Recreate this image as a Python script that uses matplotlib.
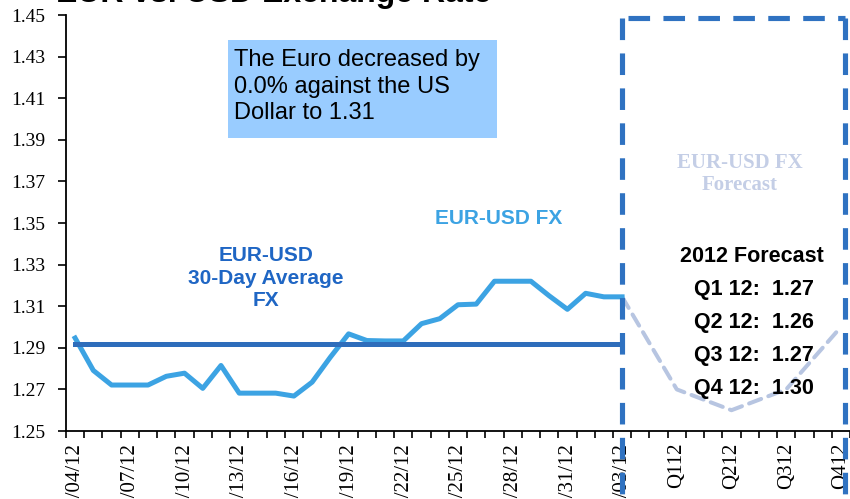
import numpy as np
import matplotlib.pyplot as plt
from matplotlib.lines import Line2D
from matplotlib.patches import Rectangle

# daily EUR-USD fix, 01/04/12 .. 02/03/12
eur_usd = [1.2947, 1.2791, 1.2721, 1.2721, 1.2721, 1.2763, 1.2778, 1.2705, 1.2815, 1.2682,
           1.2682, 1.2682, 1.2668, 1.2735, 1.2855, 1.2967, 1.2935, 1.2933, 1.2933, 1.3016,
           1.3040, 1.3107, 1.3110, 1.3220, 1.3220, 1.3220, 1.3150, 1.3085, 1.3162, 1.3145,
           1.3145]
avg_30d = 1.292
forecast = [1.27, 1.26, 1.27, 1.30]
forecast_labels = ['Q1 12', 'Q2 12', 'Q3 12', 'Q4 12']
date_labels = ['01/04/12', '01/07/12', '01/10/12', '01/13/12', '01/16/12', '01/19/12',
               '01/22/12', '01/25/12', '01/28/12', '01/31/12', '02/03/12']
q_ticklabels = ['Q112', 'Q212', 'Q312', 'Q412']

W, H = 850, 499
fig = plt.figure(figsize=(W / 100, H / 100), dpi=100)
ax = fig.add_axes([66 / W, 1 - 431 / H, 1 - 66 / W, (431 - 15) / H])

n = len(eur_usd)
x = np.arange(n)
last = n - 1
fx = [last] + [last + 3 * (i + 1) for i in range(len(forecast))]
fy = [eur_usd[-1]] + forecast

ax.plot(fx, fy, color='#b7c5e1', lw=2.9, dashes=(3.2, 1.9), dash_capstyle='round',
        solid_capstyle='round', zorder=2)
ax.plot(x, eur_usd, color='#3ca3e3', lw=3.6, zorder=3)
ax.plot([0, last], [avg_30d, avg_30d], color='#2e6dbb', lw=3.6, zorder=4)

# forecast box (runs off the bottom of the picture)
box_kw = dict(color='#2f72c1', lw=3.7, dashes=(4.2, 2.6), clip_on=False, zorder=5)
ax.add_line(Line2D([last, last], [1.4485, 1.10], **box_kw))
ax.add_line(Line2D([42.2, 42.2], [1.4485, 1.10], **box_kw))
ax.add_line(Line2D([last + 0.3, 42.2], [1.4485, 1.4485], **box_kw))

ax.set_xlim(-0.5, 42.5)
ax.set_ylim(1.25, 1.45)
ax.set_yticks(np.arange(1.25, 1.451, 0.02))
ax.set_yticklabels(['%.2f' % v for v in np.arange(1.25, 1.451, 0.02)],
                   family='Liberation Serif', fontsize=14)
ax.tick_params(axis='y', direction='out', length=6, width=1.2, pad=9)

tick_pos = list(range(0, n, 3)) + [last + 3 * (i + 1) for i in range(len(forecast))]
ax.set_xticks(tick_pos)
ax.set_xticklabels(date_labels + q_ticklabels, rotation=90, family='Liberation Serif',
                   fontsize=15, va='top')
ax.tick_params(axis='x', which='major', length=0, pad=8.5)
ax.set_xticks(np.arange(-0.5, 43, 1), minor=True)
ax.tick_params(axis='x', which='minor', direction='out', length=5, width=1.2)

for s in ['top', 'right']:
    ax.spines[s].set_visible(False)
for s in ['left', 'bottom']:
    ax.spines[s].set_linewidth(1.3)

def px(xp, yp):
    return xp / W, 1 - yp / H

# title, mostly cut off at the top
fig.text(*px(56, 2), 'EUR vs. USD Exchange Rate', family='Liberation Sans',
         weight='bold', fontsize=23, va='baseline', ha='left')

fig.patches.append(Rectangle(px(228, 138), 269 / W, 98 / H, transform=fig.transFigure,
                             facecolor='#99ccff', edgecolor='none', zorder=1))
fig.text(*px(234, 49), 'The Euro decreased by\n0.0% against the US\nDollar to 1.31',
         family='Liberation Sans', fontsize=17, va='top', ha='left',
         linespacing=1.27, zorder=2)

fig.text(*px(499, 218), 'EUR-USD FX', family='Liberation Sans', weight='bold',
         fontsize=15, color='#3ca3e3', ha='center', va='center')
fig.text(*px(266, 278), 'EUR-USD\n30-Day Average\nFX', family='Liberation Sans',
         weight='bold', fontsize=15, color='#1f66c4', ha='center', va='center',
         linespacing=1.25)
fig.text(*px(740, 174), 'EUR-USD FX\nForecast', family='Liberation Serif', weight='bold',
         fontsize=15, color='#c4cee6', ha='center', va='center', linespacing=1.1)

fig.text(*px(752, 256), '2012 Forecast', family='Liberation Sans', weight='bold',
         fontsize=15.5, ha='center', va='center')
for i, (lab, val) in enumerate(zip(forecast_labels, forecast)):
    fig.text(*px(754, 290 + 32.7 * i), '%s:  %.2f' % (lab, val), family='Liberation Sans',
             weight='bold', fontsize=15.5, ha='center', va='center', zorder=6)

fig.savefig('out.png', dpi=100)
